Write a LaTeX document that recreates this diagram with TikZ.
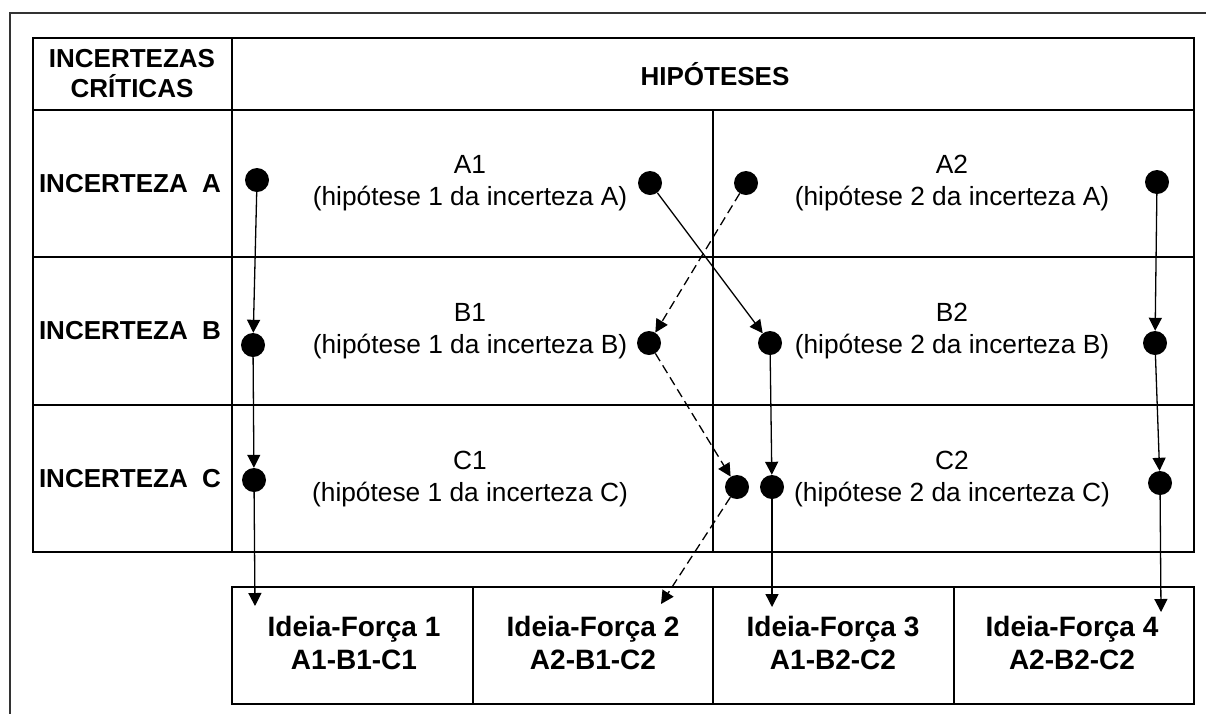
\documentclass[tikz,border=0pt]{standalone}
\usepackage{fontspec}
\setmainfont{Liberation Sans}
\usetikzlibrary{arrows.meta}
\begin{document}
\begin{tikzpicture}[x=1pt,y=-1pt,
  grid/.style={line width=2pt,black},
  frame/.style={line width=1.5pt,black!80},
  dot/.style={circle,fill=black,inner sep=0pt,minimum size=24pt},
  link/.style={line width=1.3pt,-{Triangle[length=13pt,width=13pt]}},
  dlink/.style={link,dash pattern=on 9pt off 5pt},
  head/.style={font=\fontsize{26}{30}\selectfont\bfseries,align=center,inner sep=0pt},
  hyp/.style={font=\fontsize{26.3}{32}\selectfont,align=center,inner sep=0pt},
  idea/.style={font=\fontsize{28}{33}\selectfont\bfseries,align=center,inner sep=0pt}]
\useasboundingbox (0,0) rectangle (1206,713);
% outer frame (right and bottom sides lie beyond the page)
\draw[frame] (10,720) -- (10,13) -- (1215,13);

% table of critical uncertainties and hypotheses
\draw[grid] (33,38) rectangle (1194,552);
\draw[grid] (33,110) -- (1194,110);
\draw[grid] (33,257) -- (1194,257);
\draw[grid] (33,405) -- (1194,405);
\draw[grid] (232,38) -- (232,552);
\draw[grid] (713,110) -- (713,552);

% result boxes
\draw[grid] (232,587) rectangle (1194,704);
\draw[grid] (473,587) -- (473,704);
\draw[grid] (713,587) -- (713,704);
\draw[grid] (954,587) -- (954,704);

% headings
\node[head] (hc) at (132,74) {INCERTEZAS\\CRÍTICAS};
\node[head] (hh) at (715,74) {HIPÓTESES};
\node[head] (ua) at (130,184) {INCERTEZA\ \ A};
\node[head] (ub) at (130,331) {INCERTEZA\ \ B};
\node[head] (uc) at (130,479) {INCERTEZA\ \ C};

% hypotheses
\node[hyp] (a1) at (470,183) {A1\\(hipótese 1 da incerteza A)};
\node[hyp] (a2) at (952,183) {A2\\(hipótese 2 da incerteza A)};
\node[hyp] (b1) at (470,331) {B1\\(hipótese 1 da incerteza B)};
\node[hyp] (b2) at (952,331) {B2\\(hipótese 2 da incerteza B)};
\node[hyp] (c1) at (470,479) {C1\\(hipótese 1 da incerteza C)};
\node[hyp] (c2) at (952,479) {C2\\(hipótese 2 da incerteza C)};

% combinations
\node[idea] (f1) at (354,643) {Ideia-Força 1\\A1-B1-C1};
\node[idea] (f2) at (593,643) {Ideia-Força 2\\A2-B1-C2};
\node[idea] (f3) at (833,643) {Ideia-Força 3\\A1-B2-C2};
\node[idea] (f4) at (1072,643) {Ideia-Força 4\\A2-B2-C2};

% dots
\node[dot] (pa1) at (257,180) {};
\node[dot] (pa2) at (650,183) {};
\node[dot] (pa3) at (746,183) {};
\node[dot] (pa4) at (1157,182) {};
\node[dot] (pb1) at (253,345) {};
\node[dot] (pb2) at (649,343) {};
\node[dot] (pb3) at (770,343) {};
\node[dot] (pb4) at (1155,343) {};
\node[dot] (pc1) at (254,480) {};
\node[dot] (pc2) at (737,487) {};
\node[dot] (pc3) at (772,487) {};
\node[dot] (pc4) at (1160,483) {};

% arrow ends inside the result boxes
\coordinate (e1) at (255,606);
\coordinate (e2) at (661,604);
\coordinate (e3) at (772,607);
\coordinate (e4) at (1161,612);

% paths
\draw[link] (pa1) -- (pb1);
\draw[link] (pb1) -- (pc1);
\draw[link] (pc1.center) -- (e1);
\draw[link] (pa2) -- (pb3);
\draw[dlink] (pa3) -- (pb2);
\draw[dlink] (pb2) -- (pc2);
\draw[dlink] (pc2) -- (e2);
\draw[link] (pb3) -- (pc3);
\draw[link] (pc3.center) -- (e3);
\draw[link] (pa4) -- (pb4);
\draw[link] (pb4) -- (pc4);
\draw[link] (pc4.center) -- (e4);
\end{tikzpicture}
\end{document}
